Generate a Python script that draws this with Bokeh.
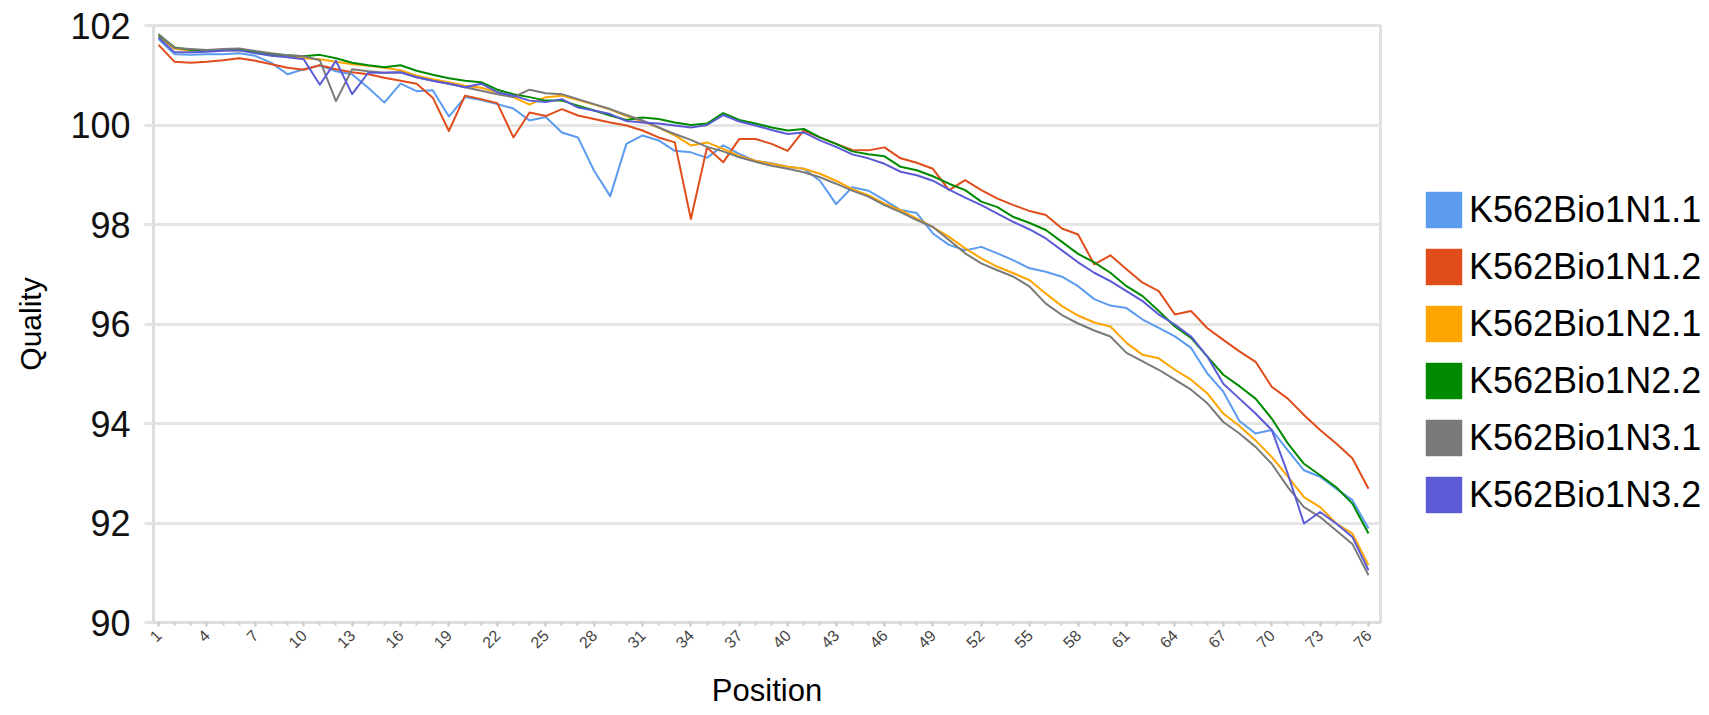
from math import pi
from bokeh.plotting import figure
from bokeh.layouts import row
from bokeh.models import FixedTicker, Range1d, Legend, LegendItem, ColumnDataSource
from bokeh.embed import file_html
from bokeh.resources import INLINE

positions = list(range(1, 77))
tick_positions = list(range(1, 77, 3))
y_ticks = [90, 92, 94, 96, 98, 100, 102]

series_names = ["K562Bio1N1.1", "K562Bio1N1.2", "K562Bio1N2.1",
                "K562Bio1N2.2", "K562Bio1N3.1", "K562Bio1N3.2"]
colors = ["#5B9BF0", "#E14D1A", "#FFA500", "#008A00", "#7A7A7A", "#5B5BD6"]

n1_1 = [101.73, 101.42, 101.41, 101.42, 101.42, 101.44, 101.39, 101.25, 101.02, 101.12,
        101.20, 101.08, 101.02, 100.75, 100.45, 100.83, 100.68, 100.70, 100.17, 100.56,
        100.50, 100.42, 100.33, 100.09, 100.16, 99.85, 99.75, 99.08, 98.57, 99.62,
        99.79, 99.69, 99.48, 99.45, 99.34, 99.59, 99.42, 99.28, 99.23, 99.16,
        99.12, 98.88, 98.41, 98.75, 98.68, 98.49, 98.29, 98.23, 97.82, 97.59,
        97.48, 97.55, 97.42, 97.28, 97.12, 97.05, 96.95, 96.76, 96.50, 96.37,
        96.32, 96.09, 95.92, 95.75, 95.52, 95.01, 94.64, 94.05, 93.80, 93.87,
        93.46, 93.06, 92.93, 92.69, 92.46, 91.89]
n1_2 = [101.61, 101.27, 101.25, 101.27, 101.30, 101.34, 101.29, 101.22, 101.15, 101.11,
        101.20, 101.12, 101.06, 101.02, 100.95, 100.89, 100.83, 100.55, 99.88, 100.59,
        100.52, 100.44, 99.75, 100.25, 100.18, 100.32, 100.19, 100.12, 100.05, 99.99,
        99.89, 99.75, 99.65, 98.11, 99.55, 99.25, 99.72, 99.72, 99.62, 99.48,
        99.89, 99.75, 99.62, 99.50, 99.49, 99.55, 99.33, 99.24, 99.12, 98.69,
        98.89, 98.69, 98.52, 98.39, 98.27, 98.19, 97.92, 97.80, 97.20, 97.38,
        97.10, 96.83, 96.66, 96.19, 96.26, 95.92, 95.68, 95.45, 95.24, 94.74,
        94.50, 94.17, 93.87, 93.60, 93.30, 92.69]
n2_1 = [101.78, 101.53, 101.49, 101.50, 101.50, 101.50, 101.46, 101.40, 101.38, 101.34,
        101.32, 101.27, 101.22, 101.19, 101.15, 101.10, 100.99, 100.92, 100.86, 100.79,
        100.75, 100.66, 100.56, 100.41, 100.56, 100.59, 100.50, 100.41, 100.31, 100.18,
        100.07, 99.95, 99.79, 99.59, 99.65, 99.52, 99.38, 99.28, 99.22, 99.16,
        99.12, 99.02, 98.88, 98.71, 98.59, 98.42, 98.29, 98.12, 97.95, 97.75,
        97.52, 97.32, 97.15, 97.02, 96.88, 96.61, 96.36, 96.17, 96.03, 95.95,
        95.62, 95.38, 95.31, 95.08, 94.88, 94.61, 94.20, 93.95, 93.66, 93.33,
        92.93, 92.52, 92.32, 91.99, 91.79, 91.15]
n2_2 = [101.81, 101.56, 101.51, 101.50, 101.51, 101.53, 101.47, 101.42, 101.40, 101.38,
        101.41, 101.34, 101.25, 101.20, 101.16, 101.20, 101.09, 101.01, 100.94, 100.89,
        100.86, 100.71, 100.62, 100.56, 100.49, 100.49, 100.39, 100.29, 100.19, 100.10,
        100.15, 100.12, 100.05, 100.00, 100.03, 100.24, 100.10, 100.03, 99.95, 99.89,
        99.92, 99.75, 99.62, 99.47, 99.41, 99.37, 99.16, 99.09, 98.97, 98.82,
        98.69, 98.46, 98.35, 98.15, 98.03, 97.89, 97.65, 97.41, 97.24, 97.03,
        96.76, 96.56, 96.26, 95.95, 95.72, 95.35, 94.98, 94.75, 94.50, 94.10,
        93.60, 93.19, 92.96, 92.72, 92.39, 91.79]
n3_1 = [101.83, 101.55, 101.53, 101.51, 101.53, 101.54, 101.49, 101.44, 101.40, 101.38,
        101.30, 100.48, 101.12, 101.08, 101.05, 101.06, 100.96, 100.89, 100.83, 100.76,
        100.69, 100.62, 100.56, 100.71, 100.64, 100.62, 100.52, 100.42, 100.32, 100.20,
        100.09, 99.95, 99.82, 99.70, 99.56, 99.47, 99.35, 99.26, 99.18, 99.12,
        99.05, 98.95, 98.82, 98.68, 98.56, 98.39, 98.25, 98.09, 97.95, 97.69,
        97.42, 97.22, 97.08, 96.95, 96.75, 96.41, 96.18, 96.01, 95.87, 95.75,
        95.42, 95.25, 95.08, 94.88, 94.68, 94.41, 94.03, 93.80, 93.53, 93.19,
        92.72, 92.32, 92.12, 91.85, 91.58, 90.95]
n3_2 = [101.76, 101.46, 101.46, 101.47, 101.49, 101.50, 101.44, 101.39, 101.36, 101.32,
        100.81, 101.29, 100.62, 101.05, 101.05, 101.06, 100.96, 100.89, 100.83, 100.76,
        100.83, 100.66, 100.59, 100.49, 100.46, 100.52, 100.35, 100.29, 100.22, 100.08,
        100.05, 100.03, 99.99, 99.95, 100.00, 100.20, 100.07, 99.99, 99.90, 99.82,
        99.85, 99.69, 99.56, 99.41, 99.33, 99.22, 99.06, 98.99, 98.88, 98.70,
        98.54, 98.39, 98.22, 98.05, 97.90, 97.72, 97.48, 97.24, 97.03, 96.86,
        96.66, 96.46, 96.19, 95.99, 95.75, 95.35, 94.80, 94.50, 94.20, 93.87,
        92.99, 91.99, 92.22, 91.99, 91.72, 91.05]

series_values = [n1_1, n1_2, n2_1, n2_2, n3_1, n3_2]

FONT = "Liberation Sans"

# ---------------- main chart ----------------
p = figure(width=1383, height=715, output_backend="svg", toolbar_location=None,
           title=None,
           x_range=Range1d(0.69, 76.744), y_range=Range1d(90, 102),
           min_border_left=153, min_border_right=3,
           min_border_top=25, min_border_bottom=93)
p.background_fill_color = "white"
p.border_fill_color = "white"
p.outline_line_color = "#e0e0e0"
p.outline_line_width = 3

p.xgrid.visible = False
p.ygrid.ticker = FixedTicker(ticks=y_ticks)
p.ygrid.grid_line_color = "#e5e5e5"
p.ygrid.grid_line_width = 3

xa = p.xaxis[0]
xa.ticker = FixedTicker(ticks=tick_positions, minor_ticks=positions)
xa.major_label_orientation = pi / 4
xa.major_label_text_font = FONT
xa.major_label_text_font_size = "16px"
xa.major_label_text_color = "#444444"
xa.major_label_standoff = 6
xa.axis_line_color = "#dddddd"
xa.axis_line_width = 3
xa.major_tick_line_color = "#cccccc"
xa.major_tick_line_width = 2
xa.major_tick_out = 4
xa.major_tick_in = 0
xa.minor_tick_line_color = "#cccccc"
xa.minor_tick_line_width = 2
xa.minor_tick_out = 3
xa.minor_tick_in = 0
xa.axis_label = "Position"
xa.axis_label_text_font = FONT
xa.axis_label_text_font_size = "31px"
xa.axis_label_text_font_style = "normal"
xa.axis_label_text_color = "#000000"
xa.axis_label_standoff = 16

ya = p.yaxis[0]
ya.ticker = FixedTicker(ticks=y_ticks)
ya.major_label_text_font = FONT
ya.major_label_text_font_size = "36px"
ya.major_label_text_color = "#111111"
ya.major_label_standoff = 14
ya.axis_line_color = "#dddddd"
ya.axis_line_width = 3
ya.major_tick_line_color = "#e3e3e3"
ya.major_tick_line_width = 3
ya.major_tick_out = 9
ya.major_tick_in = 0
ya.minor_tick_line_color = None
ya.axis_label = "Quality"
ya.axis_label_text_font = FONT
ya.axis_label_text_font_size = "30px"
ya.axis_label_text_font_style = "normal"
ya.axis_label_text_color = "#000000"
ya.axis_label_standoff = 20

for name, color, vals in zip(series_names, colors, series_values):
    src = ColumnDataSource(dict(x=positions, y=vals))
    p.line("x", "y", source=src, line_color=color, line_width=2, line_join="round")

# ---------------- legend panel ----------------
lg = figure(width=326, height=715, output_backend="svg", toolbar_location=None,
            title=None, x_axis_location=None, y_axis_location=None,
            x_range=Range1d(0, 1), y_range=Range1d(0, 1),
            min_border_left=0, min_border_right=0, min_border_top=0, min_border_bottom=0)
lg.outline_line_color = None
lg.xgrid.visible = False
lg.ygrid.visible = False
lg.background_fill_color = "white"
lg.border_fill_color = "white"

nan = float("nan")
items = []
for name, color in zip(series_names, colors):
    sw = lg.quad(left=[nan], right=[nan], top=[nan], bottom=[nan],
                 fill_color=color, line_color=color, line_alpha=0.45)
    items.append(LegendItem(label=name, renderers=[sw]))

legend = Legend(items=items, location=(38, 105), glyph_width=45, glyph_height=45,
                spacing=12, label_standoff=3, padding=0, margin=0,
                border_line_color=None, background_fill_alpha=0,
                label_text_font=FONT, label_text_font_size="36px",
                label_text_color="#000000")
lg.add_layout(legend)

layout = row(p, lg, spacing=0)
open("out.html", "w").write(file_html(layout, INLINE))
